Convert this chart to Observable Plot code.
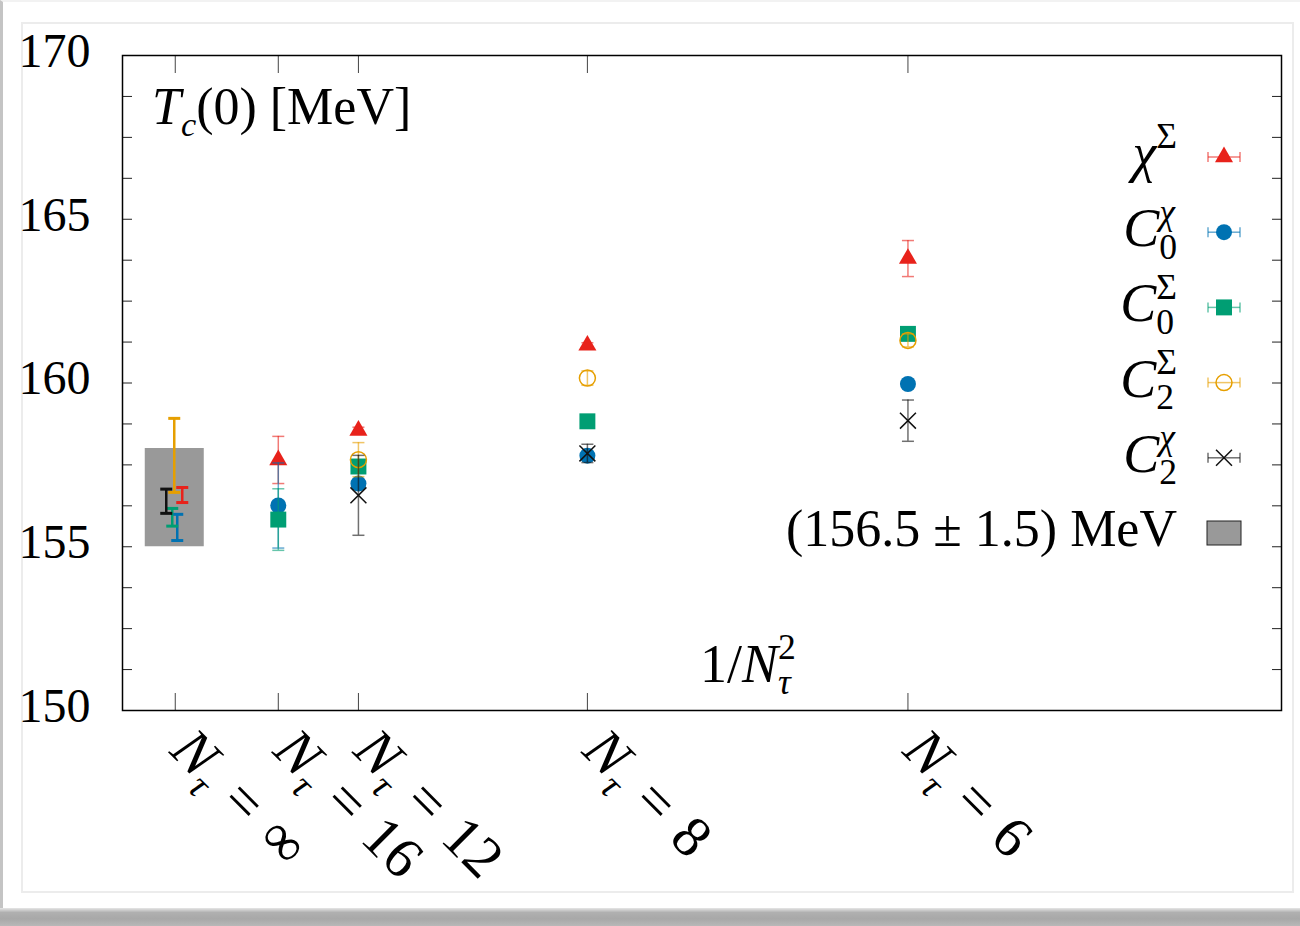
<!DOCTYPE html>
<html><head><meta charset="utf-8">
<script src="https://cdn.jsdelivr.net/npm/d3@7"></script>
<script src="https://cdn.jsdelivr.net/npm/@observablehq/plot@0.6"></script>
<style>
html,body{margin:0;padding:0;background:#fff;overflow:hidden;width:1300px;height:926px}
#outer{position:absolute;left:0;top:0;width:1300px;height:908px;box-sizing:border-box;border-left:3px solid #c4c4c4;border-top:2px solid #f2f2f2;background:#fff}
#inner{position:absolute;left:21px;top:22px;width:1273px;height:871px;box-sizing:border-box;border:2px solid #ececec}
#shadow{position:absolute;left:0;top:908px;width:1300px;height:18px;background:linear-gradient(to bottom,#e6e6e6 0,#b0b0b0 25%,#a8a8a8 60%,#b8b8b8 100%)}
#chart{position:absolute;left:0;top:0}
</style></head><body>
<div id="outer"></div><div id="inner"></div><div id="shadow"></div>
<div id="chart"></div>
<script>
// ---------------- data ----------------
const NtauTicks = [Infinity, 16, 12, 8, 6];
const tickLabels = ["N_τ = ∞", "N_τ = 16", "N_τ = 12", "N_τ = 8", "N_τ = 6"];
const yTicks = [150, 155, 160, 165, 170];
const yMinorTicks = [150, 151.25, 152.5, 153.75, 155, 156.25, 157.5, 158.75, 160, 161.25, 162.5, 163.75, 165, 166.25, 167.5, 168.75, 170];

const seriesKeys = ["chiSigma", "C0chi", "C0Sigma", "C2Sigma", "C2chi"];

const NtauA = [16, 12, 8, 6];
const chiSigma_T   = [157.65, 158.55, 161.15, 163.80];
const chiSigma_err = [0.72, 0.10, 0.08, 0.55];
const C0chi_T      = [156.26, 156.93, 157.78, 159.97];
const C0chi_err    = [1.30, 0.12, 0.10, 0.10];
const C0Sigma_T    = [155.83, 157.45, 158.83, 161.50];
const C0Sigma_err  = [0.94, 0.12, 0.10, 0.10];

const NtauB = [12, 8, 6];
const C2Sigma_T    = [157.66, 160.15, 161.30];
const C2Sigma_err  = [0.52, 0.22, 0.20];
const C2chi_T      = [156.57, 157.85, 158.85];
const C2chi_err    = [1.22, 0.28, 0.63];

// continuum (N_tau = infinity) extrapolations, same order as seriesKeys
const cont_T   = [156.58, 155.59, 155.90, 157.79, 156.39];
const cont_err = [0.23, 0.40, 0.27, 1.13, 0.37];

const bandCenter = 156.5;
const bandErr = 1.5;
const bandLabel = "(156.5 ± 1.5) MeV";

// ---------------- styles ----------------
const styles = {
  chiSigma: {color: "#e8221b", symbol: "triangle", r: 6.7, filled: true},
  C0chi:    {color: "#0072b2", symbol: "circle",   r: 8,   filled: true},
  C0Sigma:  {color: "#009e73", symbol: "square",   r: 9,   filled: true},
  C2Sigma:  {color: "#e69f00", symbol: "circle",   r: 8,   filled: false},
  C2chi:    {color: "#111111", symbol: "times",    r: 7.3, filled: false}
};
const contDx = {chiSigma: 7, C0chi: 2, C0Sigma: -3, C2Sigma: -1, C2chi: -9};
const FONT = "'Liberation Serif', 'DejaVu Serif', serif";
const TICKFS = 58;

// ---------------- build tables ----------------
const lattice = {
  chiSigma: [NtauA, chiSigma_T, chiSigma_err],
  C0chi:    [NtauA, C0chi_T, C0chi_err],
  C0Sigma:  [NtauA, C0Sigma_T, C0Sigma_err],
  C2Sigma:  [NtauB, C2Sigma_T, C2Sigma_err],
  C2chi:    [NtauB, C2chi_T, C2chi_err]
};
const xOf = N => 1 / (N * N);
const capSym = {draw(ctx) { ctx.moveTo(-6, 0); ctx.lineTo(6, 0); }};

const marks = [];
marks.push(Plot.rect([{x: xOf(Infinity), lo: bandCenter - bandErr, hi: bandCenter + bandErr}],
  {x1: "x", x2: "x", y1: "lo", y2: "hi", fill: "#999999", insetLeft: -30, insetRight: -29}));

// continuum error bars
seriesKeys.forEach((k, i) => {
  const row = [{x: xOf(Infinity), T: cont_T[i], err: cont_err[i]}];
  const c = styles[k].color;
  marks.push(Plot.ruleX(row, {x: "x", y1: d => d.T - d.err, y2: d => d.T + d.err, stroke: c, strokeWidth: 2.5, dx: contDx[k]}));
  marks.push(Plot.dot(row, {x: "x", y: d => d.T - d.err, symbol: capSym, fill: "none", stroke: c, strokeWidth: 3, dx: contDx[k]}));
  marks.push(Plot.dot(row, {x: "x", y: d => d.T + d.err, symbol: capSym, fill: "none", stroke: c, strokeWidth: 3, dx: contDx[k]}));
});

// lattice points
seriesKeys.forEach(k => {
  const [Ns, Ts, Es] = lattice[k];
  const rows = Ns.map((N, i) => ({x: xOf(N), T: Ts[i], err: Es[i]}));
  const s = styles[k];
  marks.push(Plot.ruleX(rows, {x: "x", y1: d => d.T - d.err, y2: d => d.T + d.err, stroke: s.color, strokeOpacity: 0.6, strokeWidth: 1.5}));
  marks.push(Plot.dot(rows, {x: "x", y: d => d.T - d.err, symbol: capSym, fill: "none", stroke: s.color, strokeOpacity: 0.6, strokeWidth: 1.5}));
  marks.push(Plot.dot(rows, {x: "x", y: d => d.T + d.err, symbol: capSym, fill: "none", stroke: s.color, strokeOpacity: 0.6, strokeWidth: 1.5}));
  marks.push(Plot.dot(rows, {x: "x", y: "T", symbol: s.symbol, r: s.r,
    fill: s.filled ? s.color : "none", stroke: s.color, strokeWidth: s.filled ? 0 : 1.5}));
});

const xTickVals = NtauTicks.map(xOf);

// axes / ticks
marks.push(Plot.axisY({ticks: yTicks, tickSize: 0, tickPadding: 32, dy: -4, label: null, fontSize: 48}));
marks.push(Plot.axisY({anchor: "left", ticks: yMinorTicks, tickSize: 10, dx: 10, tickFormat: () => "", label: null, stroke: "#222"}));
marks.push(Plot.axisY({anchor: "right", ticks: yMinorTicks, tickSize: 10, dx: -10, tickFormat: () => "", label: null, stroke: "#222"}));
marks.push(Plot.axisX({anchor: "bottom", ticks: xTickVals, tickSize: 17, dy: -17, tickFormat: () => "", label: null, stroke: "#444"}));
marks.push(Plot.axisX({anchor: "top", ticks: xTickVals, tickSize: 17, dy: 17, tickFormat: () => "", label: null, stroke: "#444"}));
marks.push(Plot.frame({stroke: "#000", strokeWidth: 1.5}));

// rotated x tick labels
marks.push(Plot.text(NtauTicks.map((N, i) => ({x: xOf(N), label: tickLabels[i]})),
  {x: "x", text: "label", frameAnchor: "bottom", rotate: 45, textAnchor: "start", dx: -7, dy: 42, fontSize: TICKFS}));

const svgEl = Plot.plot({
  width: 1300, height: 926,
  marginLeft: 122, marginRight: 19, marginTop: 55, marginBottom: 216,
  x: {domain: [-0.002, 0.04194]},
  y: {domain: [150, 170]},
  style: {fontFamily: FONT, fontSize: "48px", background: "transparent", color: "#000", overflow: "visible"},
  marks
});
document.getElementById("chart").appendChild(svgEl);

// ---------------- math text helper ----------------
const NS = "http://www.w3.org/2000/svg";
function mathify(el, segs, fs) {
  el.textContent = "";
  let shift = 0, prevLen = 0;
  for (const s of segs) {
    const ts = document.createElementNS(NS, "tspan");
    ts.textContent = s.t;
    const target = s.s === "sub" ? 0.23 * fs : s.s === "sup" ? -0.42 * fs : 0;
    if (target !== shift) ts.setAttribute("dy", target - shift);
    shift = target;
    if (s.i) ts.setAttribute("font-style", "italic");
    if (s.s) ts.setAttribute("font-size", 0.66 * fs);
    if (s.back) ts.setAttribute("dx", -prevLen);
    el.appendChild(ts);
    prevLen = ts.getComputedTextLength();
  }
}
const tickSegs = lab => [{t: "N", i: 1}, {t: "τ", i: 1, s: "sub"}, {t: "\u2004=\u2004" + lab.split("= ")[1]}];

// apply to tick labels
d3.select(svgEl).selectAll("text").each(function () {
  const t = this.textContent;
  if (tickLabels.includes(t)) mathify(this, tickSegs(t), TICKFS);
});

// title & axis label & legend
const g = d3.select(svgEl).append("g").attr("font-family", FONT).attr("fill", "#000");
function addText(x, y, segs, fs, anchor) {
  const el = g.append("text").attr("x", x).attr("y", y).attr("font-size", fs).attr("text-anchor", anchor || "start").node();
  mathify(el, segs, fs);
}
addText(152, 124, [{t: "T", i: 1}, {t: "c", i: 1, s: "sub"}, {t: "(0) [MeV]"}], 52);
addText(700, 682, [{t: "1/"}, {t: "N", i: 1}, {t: "τ", i: 1, s: "sub"}, {t: "2", s: "sup", back: 1}], 54);

const legendSegs = {
  chiSigma: [{t: "χ", i: 1}, {t: "Σ", s: "sup"}],
  C0chi:    [{t: "C", i: 1}, {t: "0", s: "sub"}, {t: "χ", i: 1, s: "sup", back: 1}],
  C0Sigma:  [{t: "C", i: 1}, {t: "0", s: "sub"}, {t: "Σ", s: "sup", back: 1}],
  C2Sigma:  [{t: "C", i: 1}, {t: "2", s: "sub"}, {t: "Σ", s: "sup", back: 1}],
  C2chi:    [{t: "C", i: 1}, {t: "2", s: "sub"}, {t: "χ", i: 1, s: "sup", back: 1}]
};
const symMap = {triangle: d3.symbolTriangle, circle: d3.symbolCircle, square: d3.symbolSquare, times: d3.symbolTimes};
const legY0 = 157, legStep = 75.2, legTextX = 1177, legSymX = 1224;
seriesKeys.forEach((k, i) => {
  const yc = legY0 + i * legStep;
  const s = styles[k];
  addText(legTextX, yc + 14, legendSegs[k], 54, "end");
  const lg = g.append("g").attr("stroke", s.color).attr("stroke-opacity", 0.6).attr("stroke-width", 1.5).attr("fill", "none");
  lg.append("line").attr("x1", legSymX - 16).attr("x2", legSymX + 16).attr("y1", yc).attr("y2", yc);
  lg.append("line").attr("x1", legSymX - 16).attr("x2", legSymX - 16).attr("y1", yc - 5).attr("y2", yc + 5);
  lg.append("line").attr("x1", legSymX + 16).attr("x2", legSymX + 16).attr("y1", yc - 5).attr("y2", yc + 5);
  g.append("path").attr("transform", `translate(${legSymX},${yc})`)
    .attr("d", d3.symbol(symMap[s.symbol], Math.PI * s.r * s.r)())
    .attr("fill", s.filled ? s.color : "none").attr("stroke", s.filled ? "none" : s.color).attr("stroke-width", 1.5);
});
{
  const yc = legY0 + 5 * legStep;
  addText(legTextX, yc + 13, [{t: bandLabel}], 52, "end");
  g.append("rect").attr("x", legSymX - 17).attr("y", yc - 12).attr("width", 34).attr("height", 24)
    .attr("fill", "#999999").attr("stroke", "#222").attr("stroke-width", 1);
}
</script></body></html>
